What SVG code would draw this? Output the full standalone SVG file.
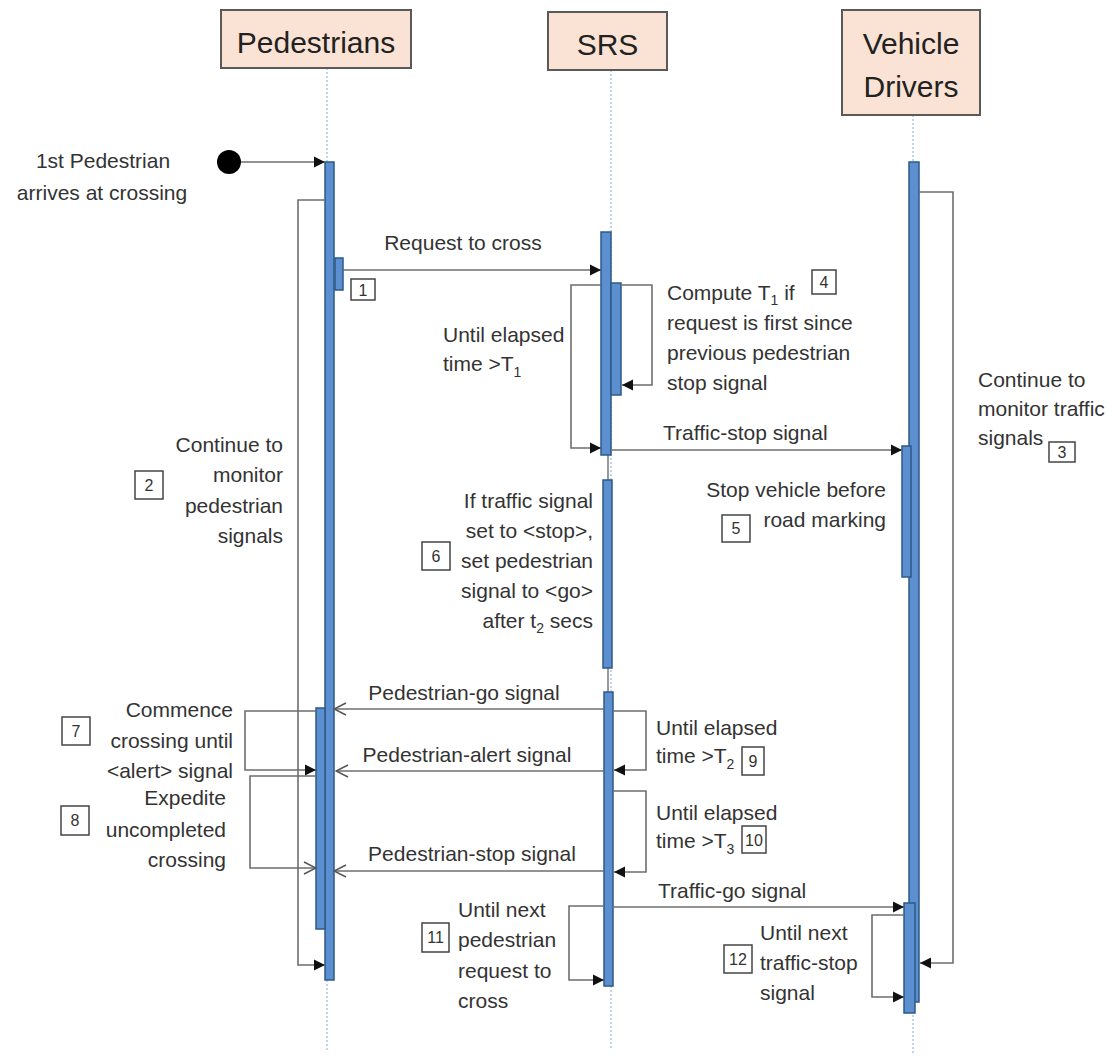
<svg xmlns="http://www.w3.org/2000/svg" width="1108" height="1064" viewBox="0 0 1108 1064">
<style>
.hdr rect{fill:#fae2d4;stroke:#5a5a5a;stroke-width:2}
.hdr text{font-family:"Liberation Sans",Arial,sans-serif;font-size:30px;fill:#222;text-anchor:middle}
.life{stroke:#a9c9e8;stroke-width:1.5;stroke-dasharray:2 2;fill:none}
.act{fill:#5b8fcf;stroke:#2d5987;stroke-width:1.5}
.lbl{font-family:"Liberation Sans",Arial,sans-serif;font-size:21px;fill:#333}
.r{text-anchor:end}
.m{text-anchor:middle}
.sub{font-size:14px}
.num rect{fill:#fff;stroke:#444;stroke-width:1.5}
.num text{font-family:"Liberation Sans",Arial,sans-serif;font-size:16px;fill:#333;text-anchor:middle}
.c{stroke:#6e6e6e;stroke-width:1.6;fill:none}
</style>
<defs>
<marker id="af" markerUnits="userSpaceOnUse" markerWidth="12" markerHeight="12" refX="11" refY="6" orient="auto"><path d="M0,0.5 L11,6 L0,11.5 z" fill="#111"/></marker>
<marker id="ao" markerUnits="userSpaceOnUse" markerWidth="14" markerHeight="14" refX="13" refY="7" orient="auto"><path d="M1,1 L13,7 L1,13" fill="none" stroke="#555" stroke-width="1.5"/></marker>
</defs>
<rect width="1108" height="1064" fill="#fff"/>

<g id="lifelines">
<line class="life" x1="327" y1="68" x2="327" y2="1050"/>
<line class="life" x1="611" y1="70" x2="611" y2="1050"/>
<line class="life" x1="913" y1="115" x2="913" y2="1055"/>
<line x1="608" y1="455" x2="608" y2="480" stroke="#777" stroke-width="1.5"/>
<line x1="608" y1="668" x2="608" y2="692" stroke="#777" stroke-width="1.5"/>
</g>

<g id="pedestrians" class="hdr"><rect x="221" y="10" width="190" height="58"/><text x="316" y="53">Pedestrians</text></g>
<g id="srs" class="hdr"><rect x="548" y="12" width="119" height="58"/><text x="607.5" y="55">SRS</text></g>
<g id="vehicle-drivers" class="hdr"><rect x="842" y="10" width="138" height="105"/><text x="911" y="54">Vehicle</text><text x="911" y="97">Drivers</text></g>

<g id="activations">
<rect class="act" x="325" y="162" width="9" height="818"/>
<rect class="act" x="335" y="258" width="8" height="32"/>
<rect class="act" x="316" y="708" width="9" height="221"/>
<rect class="act" x="601" y="232" width="10" height="223"/>
<rect class="act" x="611" y="283" width="10" height="112"/>
<rect class="act" x="603" y="480" width="9" height="188"/>
<rect class="act" x="604" y="692" width="9" height="294"/>
<rect class="act" x="909" y="162" width="10" height="840"/>
<rect class="act" x="902" y="446" width="9" height="131"/>
<rect class="act" x="904" y="903" width="11" height="110"/>
</g>

<g id="start"><circle cx="229" cy="162" r="12" fill="#000"/></g>

<g id="connectors">
<line class="c" x1="241" y1="162" x2="325" y2="162" marker-end="url(#af)"/>
<line class="c" x1="343" y1="270" x2="601" y2="270" marker-end="url(#af)"/>
<polyline class="c" points="325,200 298,200 298,965 325,965" marker-end="url(#af)"/>
<polyline class="c" points="621,285 652,285 652,385 622,385" marker-end="url(#af)"/>
<polyline class="c" points="601,285 571,285 571,448 601,448" marker-end="url(#af)"/>
<line class="c" x1="611" y1="450" x2="902" y2="450" marker-end="url(#af)"/>
<polyline class="c" points="919,192 953,192 953,963 920,963" marker-end="url(#af)"/>
<line class="c" x1="604" y1="709" x2="334" y2="709" marker-end="url(#ao)"/>
<line class="c" x1="604" y1="771" x2="336" y2="771" marker-end="url(#ao)"/>
<line class="c" x1="604" y1="871" x2="334" y2="871" marker-end="url(#ao)"/>
<polyline class="c" points="316,711 245,711 245,770 316,770" marker-end="url(#af)"/>
<polyline class="c" points="316,776 250,776 250,868 316,868" marker-end="url(#ao)"/>
<polyline class="c" points="613,711 646,711 646,770 614,770" marker-end="url(#af)"/>
<polyline class="c" points="613,791 646,791 646,872 614,872" marker-end="url(#af)"/>
<line class="c" x1="612" y1="907" x2="904" y2="907" marker-end="url(#af)"/>
<polyline class="c" points="604,906 569,906 569,980 604,980" marker-end="url(#af)"/>
<polyline class="c" points="904,915 872,915 872,997 904,997" marker-end="url(#af)"/>
</g>

<g id="labels">
<text class="lbl m" x="103" y="168">1st Pedestrian</text>
<text class="lbl m" x="102" y="200">arrives at crossing</text>
<text class="lbl m" x="463" y="250">Request to cross</text>
<text class="lbl" x="667" y="300">Compute T<tspan class="sub" dy="5">1</tspan><tspan dy="-5"> if</tspan></text>
<text class="lbl" x="667" y="330">request is first since</text>
<text class="lbl" x="667" y="360">previous pedestrian</text>
<text class="lbl" x="667" y="390">stop signal</text>
<text class="lbl" x="443" y="342">Until elapsed</text>
<text class="lbl" x="443" y="371">time &gt;T<tspan class="sub" dy="6">1</tspan></text>
<text class="lbl" x="663" y="440">Traffic-stop signal</text>
<text class="lbl" x="978" y="387">Continue to</text>
<text class="lbl" x="978" y="416">monitor traffic</text>
<text class="lbl" x="978" y="445">signals</text>
<text class="lbl r" x="283" y="452">Continue to</text>
<text class="lbl r" x="283" y="482">monitor</text>
<text class="lbl r" x="283" y="513">pedestrian</text>
<text class="lbl r" x="283" y="543">signals</text>
<text class="lbl r" x="886" y="497">Stop vehicle before</text>
<text class="lbl r" x="886" y="527">road marking</text>
<text class="lbl r" x="593" y="508">If traffic signal</text>
<text class="lbl r" x="593" y="538">set to &lt;stop&gt;,</text>
<text class="lbl r" x="593" y="568">set pedestrian</text>
<text class="lbl r" x="593" y="598">signal to &lt;go&gt;</text>
<text class="lbl r" x="593" y="628">after t<tspan class="sub" dy="5">2</tspan><tspan dy="-5"> secs</tspan></text>
<text class="lbl m" x="464" y="700">Pedestrian-go signal</text>
<text class="lbl m" x="467" y="762">Pedestrian-alert signal</text>
<text class="lbl m" x="472" y="861">Pedestrian-stop signal</text>
<text class="lbl r" x="233" y="717">Commence</text>
<text class="lbl r" x="233" y="748">crossing until</text>
<text class="lbl r" x="233" y="778">&lt;alert&gt; signal</text>
<text class="lbl r" x="226" y="805">Expedite</text>
<text class="lbl r" x="226" y="837">uncompleted</text>
<text class="lbl r" x="226" y="867">crossing</text>
<text class="lbl" x="656" y="735">Until elapsed</text>
<text class="lbl" x="656" y="763">time &gt;T<tspan class="sub" dy="6">2</tspan></text>
<text class="lbl" x="656" y="820">Until elapsed</text>
<text class="lbl" x="656" y="848">time &gt;T<tspan class="sub" dy="6">3</tspan></text>
<text class="lbl" x="658" y="898">Traffic-go signal</text>
<text class="lbl" x="458" y="917">Until next</text>
<text class="lbl" x="458" y="947">pedestrian</text>
<text class="lbl" x="458" y="978">request to</text>
<text class="lbl" x="458" y="1008">cross</text>
<text class="lbl" x="760" y="940">Until next</text>
<text class="lbl" x="760" y="970">traffic-stop</text>
<text class="lbl" x="760" y="1000">signal</text>
</g>

<g id="numbers">
<g class="num"><rect x="351" y="279" width="24" height="21"/><text x="363" y="296">1</text></g>
<g class="num"><rect x="135" y="471" width="28" height="28"/><text x="149" y="491">2</text></g>
<g class="num"><rect x="1049" y="442" width="26" height="20"/><text x="1062" y="458">3</text></g>
<g class="num"><rect x="812" y="270" width="24" height="24"/><text x="824" y="288">4</text></g>
<g class="num"><rect x="722" y="515" width="28" height="27"/><text x="736" y="534">5</text></g>
<g class="num"><rect x="422" y="542" width="28" height="28"/><text x="436" y="562">6</text></g>
<g class="num"><rect x="62" y="717" width="28" height="28"/><text x="76" y="737">7</text></g>
<g class="num"><rect x="61" y="806" width="28" height="29"/><text x="75" y="826">8</text></g>
<g class="num"><rect x="742" y="747" width="22" height="28"/><text x="753" y="767">9</text></g>
<g class="num"><rect x="742" y="826" width="24" height="27"/><text x="754" y="846">10</text></g>
<g class="num"><rect x="422" y="923" width="27" height="29"/><text x="435.5" y="943">11</text></g>
<g class="num"><rect x="724" y="945" width="28" height="28"/><text x="738" y="965">12</text></g>
</g>
</svg>
